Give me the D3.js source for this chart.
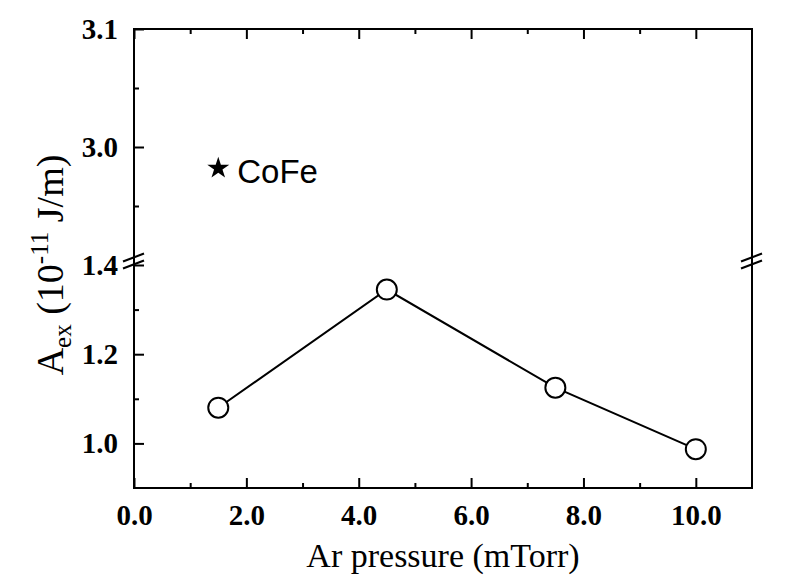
<!DOCTYPE html>
<html>
<head>
<meta charset="utf-8">
<script src="https://cdn.jsdelivr.net/npm/d3@7"></script>
<style>
  body { margin: 0; background: #fff; }
  svg { display: block; }
</style>
</head>
<body>
<svg id="chart" width="801" height="588"></svg>
<script>
// data
var pressure = [1.5, 4.5, 7.5, 10.0];
var aex = [1.08, 1.345, 1.125, 0.987];
var cofeX = [1.5];
var cofeY = [2.982];
var xTicks = [0, 2, 4, 6, 8, 10];
var xMinor = [1, 3, 5, 7, 9];
var yLowTicks = [1.0, 1.2, 1.4];
var yLowMinor = [1.1, 1.3];
var yHighTicks = [3.0, 3.1];
var yHighMinor = [2.95, 3.05];

var plotL = 134, plotR = 752, plotT = 29, plotB = 488, brk = 265;

var svg = d3.select("#chart");

var x = d3.scaleLinear().domain([0, 11]).range([plotL, plotR]);
var yLow = d3.scaleLinear().domain([0.9, 1.4]).range([plotB, brk]);
var yHigh = d3.scaleLinear().domain([2.9, 3.1]).range([brk, plotT]);

var fmt = d3.format(".1f");

function styleAxis(g) {
  g.select(".domain").remove();
  g.selectAll("line").attr("stroke", "#000").attr("stroke-width", 2);
  g.selectAll("text")
    .attr("font-family", "Liberation Serif, Times New Roman, serif")
    .attr("font-weight", "bold")
    .attr("font-size", "29px")
    .attr("fill", "#000");
}

// bottom axis
svg.append("g").attr("transform", "translate(0," + plotB + ")")
  .call(d3.axisBottom(x).tickValues(xTicks).tickSize(-10).tickPadding(16).tickFormat(fmt))
  .call(styleAxis);
svg.append("g").attr("transform", "translate(0," + plotB + ")")
  .call(d3.axisBottom(x).tickValues(xMinor).tickSize(-5).tickFormat(""))
  .call(styleAxis);

// top axis
svg.append("g").attr("transform", "translate(0," + plotT + ")")
  .call(d3.axisTop(x).tickValues(xTicks).tickSize(-10).tickFormat(""))
  .call(styleAxis);
svg.append("g").attr("transform", "translate(0," + plotT + ")")
  .call(d3.axisTop(x).tickValues(xMinor).tickSize(-5).tickFormat(""))
  .call(styleAxis);

// left axis, two segments
svg.append("g").attr("transform", "translate(" + plotL + ",0)")
  .call(d3.axisLeft(yLow).tickValues(yLowTicks).tickSize(-10).tickPadding(16).tickFormat(fmt))
  .call(styleAxis);
svg.append("g").attr("transform", "translate(" + plotL + ",0)")
  .call(d3.axisLeft(yLow).tickValues(yLowMinor).tickSize(-5).tickFormat(""))
  .call(styleAxis);
svg.append("g").attr("transform", "translate(" + plotL + ",0)")
  .call(d3.axisLeft(yHigh).tickValues(yHighTicks).tickSize(-10).tickPadding(16).tickFormat(fmt))
  .call(styleAxis);
svg.append("g").attr("transform", "translate(" + plotL + ",0)")
  .call(d3.axisLeft(yHigh).tickValues(yHighMinor).tickSize(-5).tickFormat(""))
  .call(styleAxis);

// frame
svg.append("rect")
  .attr("x", plotL).attr("y", plotT)
  .attr("width", plotR - plotL).attr("height", plotB - plotT)
  .attr("fill", "none").attr("stroke", "#000").attr("stroke-width", 2);

// axis break marks
[plotL, plotR].forEach(function(ax) {
  [-3.5, 3.5].forEach(function(off) {
    svg.append("line")
      .attr("x1", ax - 11).attr("y1", brk - 4 + off + 4)
      .attr("x2", ax + 10).attr("y2", brk - 4 + off - 4)
      .attr("stroke", "#000").attr("stroke-width", 2);
  });
});

// data line and circles
var line = d3.line()
  .x(function(d, i) { return x(pressure[i]); })
  .y(function(d) { return yLow(d); });

svg.append("path")
  .datum(aex)
  .attr("d", line)
  .attr("fill", "none")
  .attr("stroke", "#000")
  .attr("stroke-width", 2);

svg.selectAll(".pt")
  .data(aex)
  .enter()
  .append("circle")
  .attr("class", "pt")
  .attr("cx", function(d, i) { return x(pressure[i]); })
  .attr("cy", function(d) { return yLow(d); })
  .attr("r", 10)
  .attr("fill", "#fff")
  .attr("stroke", "#000")
  .attr("stroke-width", 2);

// CoFe star
svg.selectAll(".star")
  .data(cofeY)
  .enter()
  .append("path")
  .attr("class", "star")
  .attr("d", d3.symbol().type(d3.symbolStar).size(150))
  .attr("transform", function(d, i) { return "translate(" + x(cofeX[i]) + "," + yHigh(d) + ")"; })
  .attr("fill", "#000");

svg.append("text")
  .attr("x", x(cofeX[0]) + 19)
  .attr("y", yHigh(cofeY[0]) + 15)
  .attr("font-family", "Liberation Sans, Arial, sans-serif")
  .attr("font-size", "33px")
  .text("CoFe");

// axis titles
svg.append("text")
  .attr("x", (plotL + plotR) / 2)
  .attr("y", 567)
  .attr("text-anchor", "middle")
  .attr("font-family", "Liberation Serif, Times New Roman, serif")
  .attr("font-size", "34px")
  .text("Ar pressure (mTorr)");

var yt = svg.append("text")
  .attr("transform", "translate(63,265) rotate(-90)")
  .attr("text-anchor", "middle")
  .attr("font-family", "Liberation Serif, Times New Roman, serif")
  .attr("font-size", "38px");
yt.append("tspan").text("A");
yt.append("tspan").attr("font-size", "25px").attr("dy", 8).text("ex");
yt.append("tspan").attr("dy", -8).text(" (10");
yt.append("tspan").attr("font-size", "25px").attr("dy", -15).text("-11");
yt.append("tspan").attr("dy", 15).text("  J/m)");
</script>
</body>
</html>
